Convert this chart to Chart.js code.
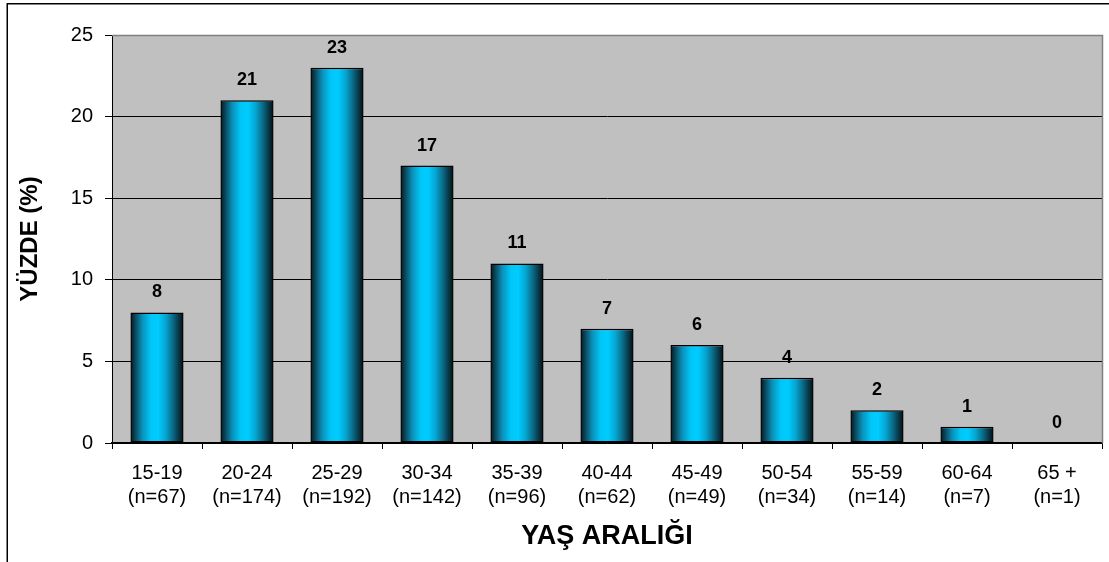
<!DOCTYPE html>
<html lang="tr">
<head>
<meta charset="utf-8">
<title>Yaş Aralığı Dağılımı</title>
<script src="https://cdn.jsdelivr.net/npm/chart.js@4/dist/chart.umd.min.js"></script>
<style>
  html, body { margin: 0; padding: 0; background: #ffffff; }
  #wrap { width: 1109px; height: 562px; position: relative; }
</style>
</head>
<body>
<div id="wrap"><canvas id="chart" width="1109" height="562"></canvas></div>
<script>
// Age groups, their sample sizes and the share (%) of each group
const ageRanges = ['15-19', '20-24', '25-29', '30-34', '35-39', '40-44', '45-49', '50-54', '55-59', '60-64', '65 +'];
const sampleSizes = [67, 174, 192, 142, 96, 62, 49, 34, 14, 7, 1];
const percentages = [8, 21, 23, 17, 11, 7, 6, 4, 2, 1, 0];
const yTicks = [0, 5, 10, 15, 20, 25];

const axisTitleY = 'YÜZDE (%)';
const axisTitleX = 'YAŞ ARALIĞI';

const categoryLabels = ageRanges.map((r, i) => [r, '(n=' + sampleSizes[i] + ')']);

const FONT = '"Liberation Sans", Arial, Helvetica, sans-serif';
const BAR_PCT = 0.59;

// Cylinder-like horizontal shading across each bar
function barGradient(context) {
  const chart = context.chart;
  const xs = chart.scales && chart.scales.x;
  if (!xs || context.dataIndex === undefined) return '#00ccff';
  const center = xs.getPixelForValue(context.dataIndex);
  const half = (xs.width / ageRanges.length) * BAR_PCT / 2;
  if (!isFinite(center) || !isFinite(half) || half <= 0) return '#00ccff';
  const g = chart.ctx.createLinearGradient(center - half, 0, center + half, 0);
  g.addColorStop(0.00, '#02161d');
  g.addColorStop(0.10, '#0a4d63');
  g.addColorStop(0.22, '#0b8fb8');
  g.addColorStop(0.38, '#00c6f7');
  g.addColorStop(0.52, '#00ccff');
  g.addColorStop(0.66, '#06a6d2');
  g.addColorStop(0.80, '#0a6a86');
  g.addColorStop(0.92, '#08323f');
  g.addColorStop(1.00, '#020e12');
  return g;
}

// Frame, plot background and value labels
const decorations = {
  id: 'decorations',
  beforeDraw(chart) {
    const { ctx, chartArea: a } = chart;
    ctx.save();
    ctx.fillStyle = '#ffffff';
    ctx.fillRect(0, 0, chart.width, chart.height);
    ctx.strokeStyle = '#000000';
    ctx.lineWidth = 1.5;
    ctx.strokeRect(7.25, 3.75, chart.width + 50, chart.height + 50);
    ctx.fillStyle = '#c0c0c0';
    ctx.fillRect(a.left, a.top, a.right - a.left, a.bottom - a.top);
    ctx.restore();
  },
  afterDatasetsDraw(chart) {
    const { ctx, chartArea: a } = chart;
    ctx.save();
    ctx.strokeStyle = '#808080';
    ctx.lineWidth = 1.5;
    ctx.beginPath();
    ctx.moveTo(a.left, a.top + 0.5);
    ctx.lineTo(a.right + 0.5, a.top + 0.5);
    ctx.lineTo(a.right + 0.5, a.bottom);
    ctx.stroke();

    const meta = chart.getDatasetMeta(0);
    ctx.fillStyle = '#000000';
    ctx.font = 'bold 18px ' + FONT;
    ctx.textAlign = 'center';
    ctx.textBaseline = 'alphabetic';
    meta.data.forEach((bar, i) => {
      ctx.fillText(String(percentages[i]), bar.x, bar.y - 15);
    });
    ctx.restore();
  }
};

new Chart(document.getElementById('chart'), {
  type: 'bar',
  data: {
    labels: categoryLabels,
    datasets: [{
      data: percentages,
      backgroundColor: barGradient,
      borderColor: '#000000',
      borderWidth: 1.5,
      borderSkipped: false,
      categoryPercentage: 1,
      barPercentage: BAR_PCT
    }]
  },
  options: {
    responsive: false,
    animation: false,
    events: [],
    layout: { padding: { left: 0, top: 35, right: 7, bottom: 0 } },
    plugins: {
      legend: { display: false },
      tooltip: { enabled: false }
    },
    scales: {
      x: {
        grid: {
          offset: true,
          drawOnChartArea: false,
          drawTicks: true,
          tickLength: 6,
          color: '#000000',
          lineWidth: 1
        },
        border: { display: true, color: '#000000', width: 1.5 },
        ticks: {
          color: '#000000',
          padding: 12,
          maxRotation: 0,
          autoSkip: false,
          font: { family: FONT, size: 20, lineHeight: 1.2 }
        },
        title: {
          display: true,
          text: axisTitleX,
          color: '#000000',
          padding: { top: 0, bottom: 9 },
          font: { family: FONT, size: 27, weight: 'bold', lineHeight: 1.2 }
        },
        afterFit(scale) { scale.height = 119; }
      },
      y: {
        min: yTicks[0],
        max: yTicks[yTicks.length - 1],
        afterBuildTicks(scale) { scale.ticks = yTicks.map(v => ({ value: v })); },
        grid: {
          color: '#000000',
          lineWidth: 1,
          drawTicks: true,
          tickLength: 7
        },
        border: { display: true, color: '#000000', width: 1 },
        ticks: {
          color: '#000000',
          padding: 12,
          font: { family: FONT, size: 20 }
        },
        title: {
          display: true,
          text: axisTitleY,
          color: '#000000',
          padding: { top: 16, bottom: 0 },
          font: { family: FONT, size: 24, weight: 'bold', lineHeight: 1.2 }
        },
        afterFit(scale) { scale.width = 112; }
      }
    }
  },
  plugins: [decorations]
});
</script>
</body>
</html>
